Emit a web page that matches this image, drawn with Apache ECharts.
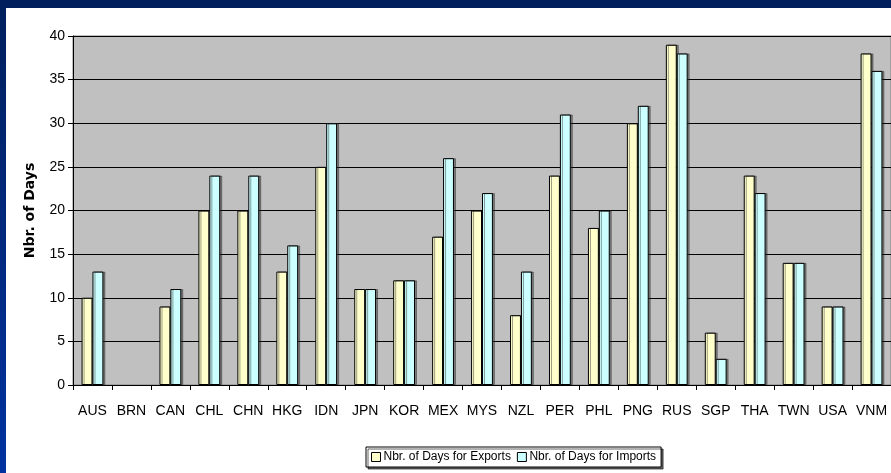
<!DOCTYPE html>
<html>
<head>
<meta charset="utf-8">
<script src="https://cdn.jsdelivr.net/npm/echarts@6/dist/echarts.min.js"></script>
<style>
  html, body { margin: 0; padding: 0; }
  #main { width: 891px; height: 473px; }
</style>
</head>
<body>
<div id="main"></div>
<script>
// economies (BRN has no data)
const categories = ['AUS', 'BRN', 'CAN', 'CHL', 'CHN', 'HKG', 'IDN', 'JPN', 'KOR', 'MEX', 'MYS',
  'NZL', 'PER', 'PHL', 'PNG', 'RUS', 'SGP', 'THA', 'TWN', 'USA', 'VNM']
const exportDays = [10, null, 9, 20, 20, 13, 25, 11, 12, 17, 20, 8, 24, 18, 30, 39, 6, 24, 14, 9, 38]
const importDays = [13, null, 11, 24, 24, 16, 30, 11, 12, 26, 22, 13, 31, 20, 32, 38, 3, 22, 14, 9, 36]
const yTicks = [0, 5, 10, 15, 20, 25, 30, 35, 40]

const chart = echarts.init(document.getElementById('main'))

const barShadow = {
  borderColor: '#000',
  borderWidth: 1,
  shadowColor: 'rgba(40,40,40,0.45)',
  shadowBlur: 0,
  shadowOffsetX: 2,
  shadowOffsetY: 0
}

chart.setOption({
  animation: false,
  backgroundColor: {
    type: 'linear', x: 0, y: 0, x2: 0, y2: 1,
    colorStops: [{offset: 0, color: '#001f5c'}, {offset: 1, color: '#0033a0'}]
  },
  graphic: [
    {
      type: 'rect', z: -10, silent: true,
      shape: {x: 6, y: 8, width: 900, height: 480},
      style: {fill: '#fff'}
    }
  ],
  textStyle: {fontFamily: 'Liberation Sans, Arial, sans-serif'},
  grid: {
    left: 73, top: 36, right: -1, bottom: 88,
    show: true,
    backgroundColor: '#c0c0c0',
    borderColor: '#808080',
    borderWidth: 1
  },
  legend: {
    left: 366,
    top: 447,
    padding: [4, 5, 4, 5],
    itemGap: 6,
    itemWidth: 9,
    itemHeight: 9,
    borderColor: '#000',
    borderWidth: 1,
    backgroundColor: '#fff',
    shadowColor: 'rgba(0,0,0,0.6)',
    shadowOffsetX: 2,
    shadowOffsetY: 2,
    icon: 'rect',
    textStyle: {fontSize: 12, color: '#000', padding: [0, 0, 0, -2]},
    itemStyle: {borderColor: '#000', borderWidth: 1}
  },
  xAxis: {
    type: 'category',
    data: categories,
    axisLine: {lineStyle: {color: '#000', width: 1}},
    axisTick: {show: true, length: 5, lineStyle: {color: '#000'}},
    axisLabel: {color: '#000', fontSize: 14, margin: 19, interval: 0}
  },
  yAxis: {
    type: 'value',
    min: yTicks[0],
    max: yTicks[yTicks.length - 1],
    interval: 5,
    name: 'Nbr. of Days',
    nameLocation: 'middle',
    nameGap: 36,
    nameTextStyle: {fontFamily: 'DejaVu Sans', fontWeight: 'bold', fontSize: 14, color: '#000'},
    axisLine: {show: true, lineStyle: {color: '#000'}},
    axisTick: {show: true, length: 5, lineStyle: {color: '#000'}},
    axisLabel: {color: '#000', fontSize: 14, margin: 8},
    splitLine: {lineStyle: {color: '#000', width: 1}}
  },
  series: [
    {
      name: 'Nbr. of Days for Exports',
      type: 'bar',
      data: exportDays,
      barGap: '0%',
      barCategoryGap: '44%',
      itemStyle: Object.assign({color: '#ffffcc'}, barShadow)
    },
    {
      name: 'Nbr. of Days for Imports',
      type: 'bar',
      data: importDays,
      barGap: '0%',
      barCategoryGap: '44%',
      itemStyle: Object.assign({color: '#ccffff'}, barShadow)
    }
  ]
})
</script>
</body>
</html>
